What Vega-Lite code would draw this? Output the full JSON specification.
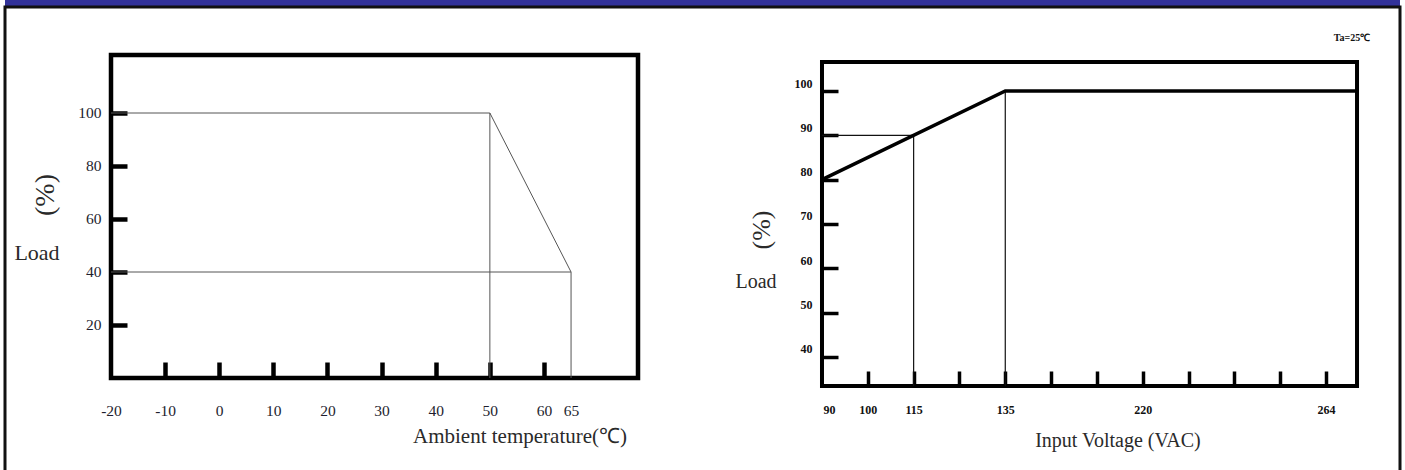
{
  "$schema": "https://vega.github.io/schema/vega-lite/v6.json",
  "width": 1395,
  "height": 463,
  "autosize": {"type": "none"},
  "padding": {"left": 5, "top": 7, "right": 5, "bottom": 0},
  "background": "white",
  "config": {
    "view": {"stroke": null},
    "axis": {"grid": false, "domain": false, "labelFont": "Liberation Serif", "title": null},
    "text": {"font": "Liberation Serif"}
  },
  "datasets": {
    "temp": [
      {"seg": "curve", "i": 0, "t": -20, "load": 100},
      {"seg": "curve", "i": 1, "t": 50, "load": 100},
      {"seg": "curve", "i": 2, "t": 65, "load": 40},
      {"seg": "v50", "i": 0, "t": 50, "load": 100},
      {"seg": "v50", "i": 1, "t": 50, "load": 0},
      {"seg": "h40", "i": 0, "t": -20, "load": 40},
      {"seg": "h40", "i": 1, "t": 65, "load": 40},
      {"seg": "v65", "i": 0, "t": 65, "load": 40},
      {"seg": "v65", "i": 1, "t": 65, "load": 0}
    ],
    "volt": [
      {"seg": "curve", "i": 0, "step": 0, "vac": 90, "load": 80},
      {"seg": "curve", "i": 1, "step": 4, "vac": 135, "load": 100},
      {"seg": "curve", "i": 2, "step": 11.677, "load": 100},
      {"seg": "h90", "i": 0, "step": 0, "vac": 90, "load": 90},
      {"seg": "h90", "i": 1, "step": 2, "vac": 115, "load": 90},
      {"seg": "v115", "i": 0, "step": 2, "vac": 115, "load": 90},
      {"seg": "v115", "i": 1, "step": 2, "vac": 115, "load": 33.45},
      {"seg": "v135", "i": 0, "step": 4, "vac": 135, "load": 100},
      {"seg": "v135", "i": 1, "step": 4, "vac": 135, "load": 33.45}
    ]
  },
  "layer": [
    {
      "data": {"values": [{}]},
      "mark": {"type": "rect", "fill": "#32329a"},
      "encoding": {
        "x": {"datum": 0, "type": "quantitative", "scale": {"domain": [0, 1], "nice": false, "zero": false}, "axis": null},
        "x2": {"datum": 1},
        "y": {"datum": 1, "type": "quantitative", "scale": {"domain": [0, 1], "nice": false, "zero": false}, "axis": null},
        "y2": {"datum": 1.03}
      }
    },
    {
      "data": {"values": [{}]},
      "mark": {"type": "rect", "fillOpacity": 0, "stroke": "#111", "strokeWidth": 3},
      "encoding": {
        "x": {"datum": 0, "type": "quantitative", "scale": {"domain": [0, 1], "nice": false, "zero": false}, "axis": null},
        "x2": {"datum": 1},
        "y": {"datum": -0.03, "type": "quantitative", "scale": {"domain": [0, 1], "nice": false, "zero": false}, "axis": null},
        "y2": {"datum": 1}
      }
    },
    {
      "data": {"values": [{}]},
      "mark": {"type": "rect", "fillOpacity": 0, "stroke": "black", "strokeWidth": 4.5},
      "encoding": {
        "x": {"datum": -20, "type": "quantitative", "scale": {"domain": [-39.584, 218.157], "nice": false, "zero": false}, "axis": null},
        "x2": {"datum": 77.37},
        "y": {"datum": 0, "type": "quantitative", "scale": {"domain": [-34.717, 140.0], "nice": false, "zero": false}, "axis": null},
        "y2": {"datum": 121.89}
      }
    },
    {
      "data": {"name": "temp"},
      "mark": {"type": "line", "stroke": "#555", "strokeWidth": 1},
      "encoding": {
        "x": {
          "field": "t", "type": "quantitative",
          "scale": {"domain": [-39.584, 218.157], "nice": false, "zero": false},
          "axis": {
            "orient": "bottom", "offset": -92,
            "values": [-20, -10, 0, 10, 20, 30, 40, 50, 60, 65],
            "labelExpr": "toString(datum.value)",
            "tickSize": -16, "tickWidth": 4.5, "tickColor": "black",
            "tickOpacity": {"condition": {"test": "datum.value == -20 || datum.value == 65", "value": 0}, "value": 1},
            "labelPadding": 41, "labelFontSize": 15.5, "labelColor": "#1e1e2e",
            "labelFlush": false, "labelOverlap": false, "labelBound": false
          }
        },
        "y": {
          "field": "load", "type": "quantitative",
          "scale": {"domain": [-34.717, 140.0], "nice": false, "zero": false},
          "axis": {
            "orient": "left", "offset": -106,
            "values": [20, 40, 60, 80, 100],
            "tickSize": -16, "tickWidth": 4.5, "tickColor": "black",
            "labelPadding": 26, "labelFontSize": 15.5, "labelColor": "#1e1e2e",
            "labelFlush": false, "labelOverlap": false
          }
        },
        "detail": {"field": "seg"},
        "order": {"field": "i"}
      }
    },
    {
      "data": {"values": [{}]},
      "mark": {"type": "rect", "fillOpacity": 0, "stroke": "black", "strokeWidth": 4},
      "encoding": {
        "x": {"datum": 0, "type": "quantitative", "scale": {"domain": [-17.831, 12.615], "nice": false, "zero": false}, "axis": null},
        "x2": {"datum": 11.677},
        "y": {"datum": 33.45, "type": "quantitative", "scale": {"domain": [14.504, 118.949], "nice": false, "zero": false}, "axis": null},
        "y2": {"datum": 106.54}
      }
    },
    {
      "data": {"name": "volt"},
      "transform": [{"filter": "datum.seg != 'curve'"}],
      "mark": {"type": "line", "stroke": "#111", "strokeWidth": 1.2},
      "encoding": {
        "x": {"field": "step", "type": "quantitative", "scale": {"domain": [-17.831, 12.615], "nice": false, "zero": false}, "axis": null},
        "y": {"field": "load", "type": "quantitative", "scale": {"domain": [14.504, 118.949], "nice": false, "zero": false}, "axis": null},
        "detail": {"field": "seg"},
        "order": {"field": "i"}
      }
    },
    {
      "data": {"name": "volt"},
      "transform": [{"filter": "datum.seg == 'curve'"}],
      "mark": {"type": "line", "stroke": "black", "strokeWidth": 3.5},
      "encoding": {
        "x": {
          "field": "step", "type": "quantitative",
          "scale": {"domain": [-17.831, 12.615], "nice": false, "zero": false},
          "axis": {
            "orient": "bottom", "offset": -84,
            "values": [0, 1, 2, 3, 4, 5, 6, 7, 8, 9, 10, 11],
            "labelExpr": "['90','100','115','','135','','','220','','','','264'][datum.value]",
            "tickSize": -15, "tickWidth": 3.5, "tickColor": "black",
            "tickOpacity": {"condition": {"test": "datum.value == 0", "value": 0}, "value": 1},
            "labelOffset": {"condition": {"test": "datum.value == 0", "value": 7}, "value": 0},
            "labelPadding": 33, "labelFontSize": 12, "labelFontWeight": "bold", "labelColor": "#111",
            "labelFlush": false, "labelOverlap": false, "labelBound": false
          }
        },
        "y": {
          "field": "load", "type": "quantitative",
          "scale": {"domain": [14.504, 118.949], "nice": false, "zero": false},
          "axis": {
            "orient": "left", "offset": -817,
            "values": [40, 50, 60, 70, 80, 90, 100],
            "tickSize": -16, "tickWidth": 3.5, "tickColor": "black",
            "labelPadding": 26, "labelOffset": -8, "labelFontSize": 12, "labelFontWeight": "bold", "labelColor": "#111",
            "labelFlush": false, "labelOverlap": false
          }
        },
        "detail": {"field": "seg"},
        "order": {"field": "i"}
      }
    },
    {
      "data": {"values": [{"label": "Load"}]},
      "mark": {"type": "text", "fontSize": 22, "color": "#2a2a2a", "align": "center", "baseline": "middle"},
      "encoding": {
        "text": {"field": "label"},
        "x": {"datum": -33.67, "type": "quantitative", "scale": {"domain": [-39.584, 218.157], "nice": false, "zero": false}, "axis": null},
        "y": {"datum": 47.17, "type": "quantitative", "scale": {"domain": [-34.717, 140.0], "nice": false, "zero": false}, "axis": null}
      }
    },
    {
      "data": {"values": [{"label": "(%)"}]},
      "mark": {"type": "text", "fontSize": 28, "color": "#2a2a2a", "align": "center", "baseline": "middle", "angle": 270},
      "encoding": {
        "text": {"field": "label"},
        "x": {"datum": -32.01, "type": "quantitative", "scale": {"domain": [-39.584, 218.157], "nice": false, "zero": false}, "axis": null},
        "y": {"datum": 69.06, "type": "quantitative", "scale": {"domain": [-34.717, 140.0], "nice": false, "zero": false}, "axis": null}
      }
    },
    {
      "data": {"values": [{"label": "Ambient temperature(℃)"}]},
      "mark": {"type": "text", "fontSize": 21, "color": "#2a2a2a", "align": "center", "baseline": "middle"},
      "encoding": {
        "text": {"field": "label"},
        "x": {"datum": 55.57, "type": "quantitative", "scale": {"domain": [-39.584, 218.157], "nice": false, "zero": false}, "axis": null},
        "y": {"datum": -22.26, "type": "quantitative", "scale": {"domain": [-34.717, 140.0], "nice": false, "zero": false}, "axis": null}
      }
    },
    {
      "data": {"values": [{"label": "Load"}]},
      "mark": {"type": "text", "fontSize": 20, "color": "#2a2a2a", "align": "center", "baseline": "middle"},
      "encoding": {
        "text": {"field": "label"},
        "x": {"datum": -1.4405, "type": "quantitative", "scale": {"domain": [-17.831, 12.615], "nice": false, "zero": false}, "axis": null},
        "y": {"datum": 56.91, "type": "quantitative", "scale": {"domain": [14.504, 118.949], "nice": false, "zero": false}, "axis": null}
      }
    },
    {
      "data": {"values": [{"label": "(%)"}]},
      "mark": {"type": "text", "fontSize": 26, "color": "#2a2a2a", "align": "center", "baseline": "middle", "angle": 270},
      "encoding": {
        "text": {"field": "label"},
        "x": {"datum": -1.3095, "type": "quantitative", "scale": {"domain": [-17.831, 12.615], "nice": false, "zero": false}, "axis": null},
        "y": {"datum": 68.64, "type": "quantitative", "scale": {"domain": [14.504, 118.949], "nice": false, "zero": false}, "axis": null}
      }
    },
    {
      "data": {"values": [{"label": "Input Voltage (VAC)"}]},
      "mark": {"type": "text", "fontSize": 20, "color": "#2a2a2a", "align": "center", "baseline": "middle"},
      "encoding": {
        "text": {"field": "label"},
        "x": {"datum": 6.46, "type": "quantitative", "scale": {"domain": [-17.831, 12.615], "nice": false, "zero": false}, "axis": null},
        "y": {"datum": 21.05, "type": "quantitative", "scale": {"domain": [14.504, 118.949], "nice": false, "zero": false}, "axis": null}
      }
    },
    {
      "data": {"values": [{"label": "Ta=25℃"}]},
      "mark": {"type": "text", "fontSize": 10, "fontWeight": "bold", "color": "#111", "align": "center", "baseline": "middle"},
      "encoding": {
        "text": {"field": "label"},
        "x": {"datum": 11.567, "type": "quantitative", "scale": {"domain": [-17.831, 12.615], "nice": false, "zero": false}, "axis": null},
        "y": {"datum": 111.96, "type": "quantitative", "scale": {"domain": [14.504, 118.949], "nice": false, "zero": false}, "axis": null}
      }
    }
  ],
  "resolve": {"scale": {"x": "independent", "y": "independent"}}
}
